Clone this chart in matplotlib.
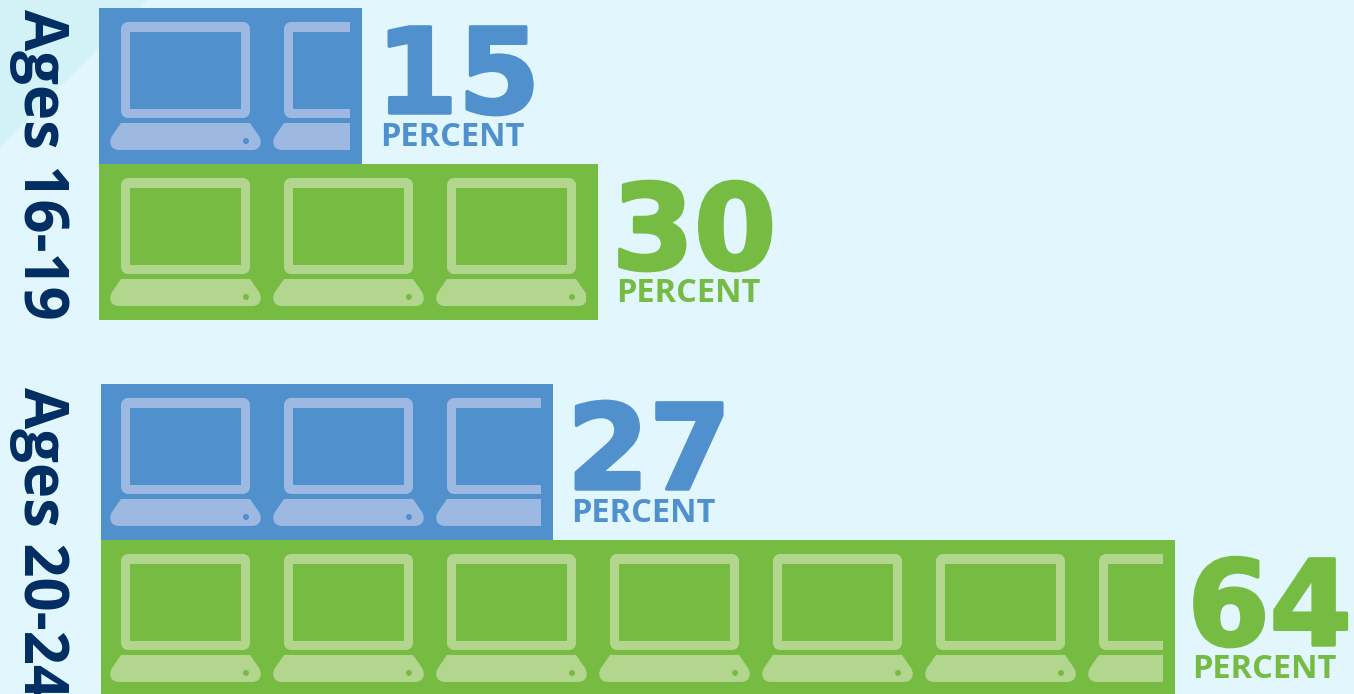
import matplotlib
matplotlib.use('Agg')
import matplotlib.pyplot as plt
import matplotlib.patheffects as pe
from matplotlib.patches import Polygon, Circle, PathPatch, Rectangle
from matplotlib.path import Path
from matplotlib.transforms import Affine2D

# data
groups = ['Ages 16-19', 'Ages 20-24']
percent_labels = ['15', '30', '27', '64']
bar_lengths = [15.65, 29.7, 26.9, 63.9]   # the drawn bars, in percent
bar_colors = ['#4F90CD', '#76BC43', '#4F90CD', '#76BC43']
icon_colors = ['#9DB9E1', '#B3D68F', '#9DB9E1', '#B3D68F']
bar_pos = [0, 1, 2.41, 3.41]
bar_left = [0, 0, 0.12, 0.12]

W, H = 1354, 694
BG = '#E2F7FD'
PX_PER_PCT = 16.8
PX_PER_ROW = 156
FONT = 'Open Sans'

fig = plt.figure(figsize=(W / 100, H / 100), dpi=100, facecolor=BG)
ax = fig.add_axes([0, 0, 1, 1])
ax.set_xlim(-99 / PX_PER_PCT, (W - 99) / PX_PER_PCT)
ax.set_ylim((H - 86) / PX_PER_ROW, -86 / PX_PER_ROW)
ax.axis('off')

# everything for the icons is in image pixels, y going down
px = Affine2D().scale(1, -1).translate(0, H)

ax.add_patch(Polygon([(0, 0), (147, 0), (0, 147)], closed=True, fc='#D3F2F8', ec='none', transform=px))

bars = ax.barh(bar_pos, bar_lengths, height=1, left=bar_left, color=bar_colors, zorder=1)


def rounded(x0, y0, x1, y1, r):
    k = 0.55 * r
    return [
        (Path.MOVETO, (x0 + r, y0)), (Path.LINETO, (x1 - r, y0)),
        (Path.CURVE4, (x1 - r + k, y0)), (Path.CURVE4, (x1, y0 + r - k)), (Path.CURVE4, (x1, y0 + r)),
        (Path.LINETO, (x1, y1 - r)),
        (Path.CURVE4, (x1, y1 - r + k)), (Path.CURVE4, (x1 - r + k, y1)), (Path.CURVE4, (x1 - r, y1)),
        (Path.LINETO, (x0 + r, y1)),
        (Path.CURVE4, (x0 + r - k, y1)), (Path.CURVE4, (x0, y1 - r + k)), (Path.CURVE4, (x0, y1 - r)),
        (Path.LINETO, (x0, y0 + r)),
        (Path.CURVE4, (x0, y0 + r - k)), (Path.CURVE4, (x0 + r - k, y0)), (Path.CURVE4, (x0 + r, y0)),
        (Path.CLOSEPOLY, (x0 + r, y0)),
    ]


def laptop(x, top, color, barcolor, clip):
    # x is the left edge of the base, top the top edge of the bar
    outer = rounded(x + 10, top + 14, x + 139, top + 110, 7)
    # the hole runs the other way round so that it stays empty
    inner = [
        (Path.MOVETO, (x + 19, top + 24)), (Path.LINETO, (x + 19, top + 101)),
        (Path.LINETO, (x + 130, top + 101)), (Path.LINETO, (x + 130, top + 24)),
        (Path.CLOSEPOLY, (x + 19, top + 24)),
    ]
    codes = [c for c, _ in outer + inner]
    verts = [v for _, v in outer + inner]
    parts = [PathPatch(Path(verts, codes), fc=color, ec='none', transform=px)]
    base = [
        (Path.MOVETO, (x + 10, top + 115)), (Path.LINETO, (x + 139, top + 115)),
        (Path.LINETO, (x + 148, top + 128)),
        (Path.CURVE4, (x + 152, top + 135)), (Path.CURVE4, (x + 149, top + 142)), (Path.CURVE4, (x + 141, top + 142)),
        (Path.LINETO, (x + 8, top + 142)),
        (Path.CURVE4, (x, top + 142)), (Path.CURVE4, (x - 3, top + 135)), (Path.CURVE4, (x + 1, top + 128)),
        (Path.CLOSEPOLY, (x + 10, top + 115)),
    ]
    parts.append(PathPatch(Path([v for _, v in base], [c for c, _ in base]), fc=color, ec='none', transform=px))
    parts.append(Circle((x + 135, top + 133), 3, fc=barcolor, ec='none', transform=px))
    for p in parts:
        ax.add_patch(p)
        p.set_zorder(2)
        p.set_clip_path(clip)


for i, bar in enumerate(bars):
    y_top = 86 + (bar_pos[i] - 0.5) * PX_PER_ROW
    x_end = 99 + (bar_left[i] + bar_lengths[i]) * PX_PER_PCT
    clip = Rectangle((0, y_top), x_end - 12, PX_PER_ROW, transform=px)
    x = 111
    while x < x_end - 12:
        laptop(x, y_top, icon_colors[i], bar_colors[i], clip)
        x += 163

    end = bar_left[i] + bar_lengths[i]
    num = ax.annotate(percent_labels[i], (end, bar_pos[i]), xytext=(14 if i != 3 else 13, -27), textcoords='offset pixels',
                      fontsize=85, fontweight='bold', family='DejaVu Sans', color=bar_colors[i], ha='left', va='baseline', zorder=3)
    num.set_path_effects([pe.withStroke(linewidth=2.5, foreground=bar_colors[i])])
    ax.annotate('PERCENT', (end, bar_pos[i]), xytext=(18, -60), textcoords='offset pixels',
                fontsize=23.5, fontweight='bold', family=FONT, color=bar_colors[i], ha='left', va='baseline', zorder=4)

for name, yc in zip(groups, [164, 542]):
    ax.text(24, yc, name, transform=px, rotation=-90, rotation_mode='anchor', ha='center', va='baseline',
            fontsize=43, fontweight='bold', family=FONT, color='#002D62', zorder=3)

fig.savefig('out.png', dpi=100, facecolor=BG)
